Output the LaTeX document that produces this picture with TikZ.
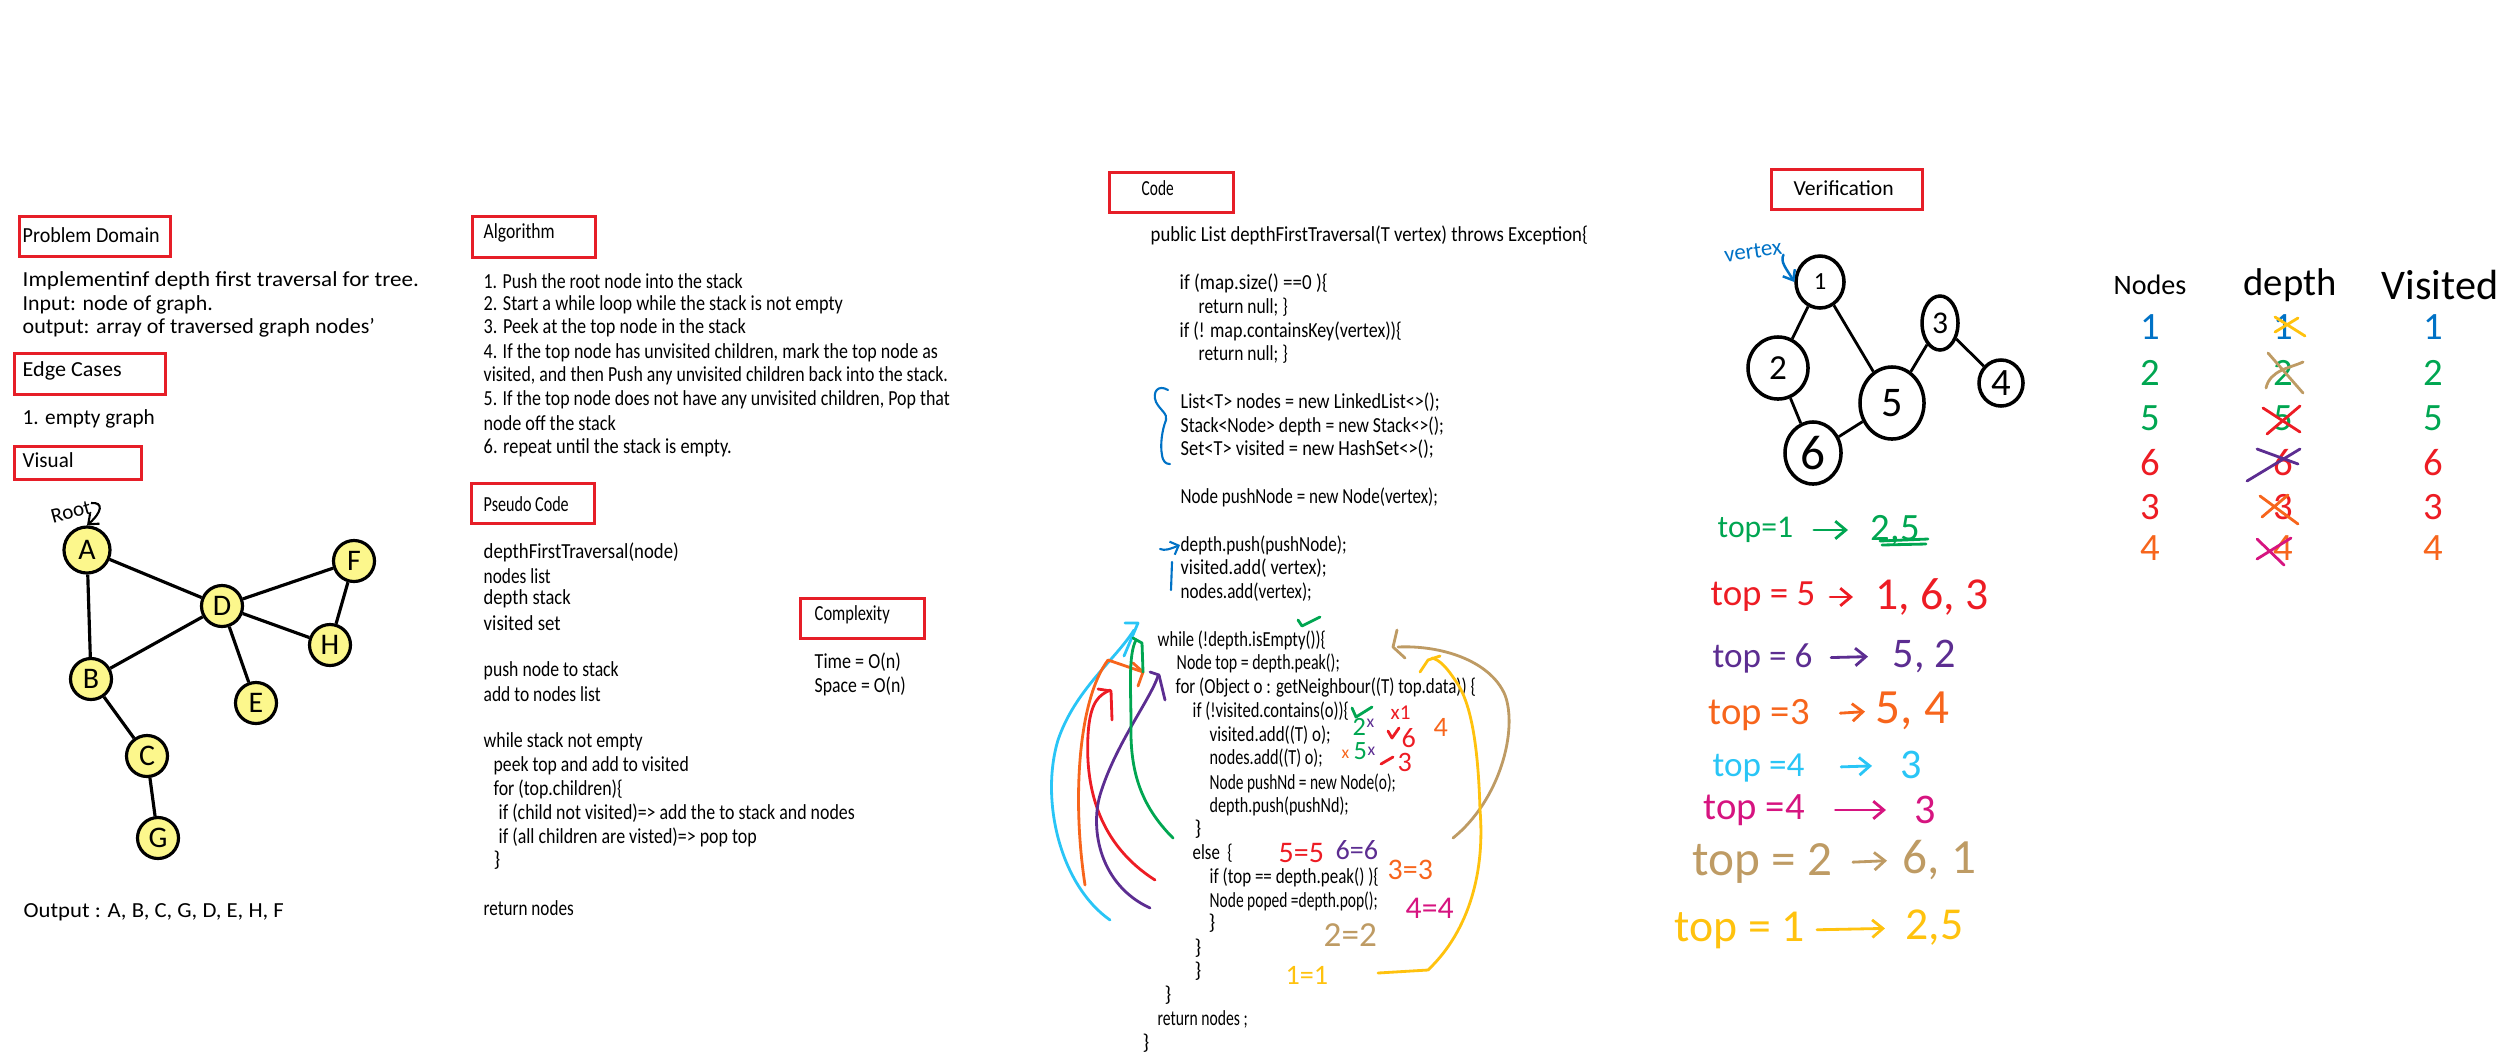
\documentclass[tikz,border=0pt]{standalone}
\usepackage{fontspec}
\setmainfont{Carlito}
\usetikzlibrary{shapes.geometric,arrows.meta}
\definecolor{boxred}{RGB}{230,30,40}
\definecolor{gyel}{RGB}{252,247,140}
\definecolor{cgreen}{RGB}{0,166,81}
\definecolor{cred}{RGB}{237,28,36}
\definecolor{cpurple}{RGB}{92,45,145}
\definecolor{corange}{RGB}{247,101,28}
\definecolor{ccyan}{RGB}{41,197,246}
\definecolor{cmag}{RGB}{214,20,128}
\definecolor{ctan}{RGB}{190,155,100}
\definecolor{cgold}{RGB}{255,194,14}
\definecolor{cblue}{RGB}{0,114,198}
\newcommand\hw{\fontsize{6.1}{7}\selectfont}
\newcommand\fs[1]{\fontsize{#1}{#1}\selectfont}
\newsavebox\fitbox
\newcommand\fitw[2]{\sbox\fitbox{#2}\pgfmathsetmacro\fitr{#1*0.28453/\the\wd\fitbox}\scalebox{\fitr}[1]{\usebox\fitbox}}
\begin{document}
\begin{tikzpicture}[x=0.01cm,y=-0.01cm,
  txt/.style={font=\hw, anchor=west, inner sep=0pt},
  redbox/.style={draw=boxred, line width=0.9pt, anchor=north west, inner sep=0pt},
  gnode/.style={circle, draw=black, line width=0.9pt, fill=gyel, minimum size=0.41cm, inner sep=0pt, font=\fs{8.5}},
  edge/.style={line width=0.9pt},
  vnode/.style={ellipse, draw=black, line width=1pt, inner sep=0pt},
  ann/.style={inner sep=0pt, anchor=west},
  pen/.style={line width=0.8pt, line cap=round, line join=round},
  barb/.style={-{Straight Barb[length=3pt,width=5pt]}},
]
\useasboundingbox (0,0) rectangle (2500,1060);

% ---------- red title boxes ----------
\node[redbox, minimum width=1.51cm, minimum height=0.40cm] (bpd) at (18,215) {};
\node[txt] (tpd) at (22,235) {\fitw{137}{Problem Domain}};
\node[redbox, minimum width=1.51cm, minimum height=0.41cm] (bec) at (13,352) {};
\node[txt] (tec) at (22,371) {\fitw{99}{Edge Cases}};
\node[redbox, minimum width=1.27cm, minimum height=0.33cm] (bvi) at (13,445) {};
\node[txt] (tvi) at (22,460) {\fitw{51}{Visual}};
\node[redbox, minimum width=1.23cm, minimum height=0.41cm] (bal) at (471,215) {};
\node[txt] (tal) at (483,233) {\fitw{71}{Algorithm}};
\node[redbox, minimum width=1.23cm, minimum height=0.40cm] (bps) at (470,482) {};
\node[txt] (tps) at (483,504) {\fitw{85}{Pseudo Code}};
\node[redbox, minimum width=1.24cm, minimum height=0.40cm] (bcx) at (799,597) {};
\node[txt] (tcx) at (814,615) {\fitw{75}{Complexity}};
\node[redbox, minimum width=1.24cm, minimum height=0.40cm] (bco) at (1108,171) {};
\node[txt] (tco) at (1141,188) {\fitw{32}{Code}};
\node[redbox, minimum width=1.51cm, minimum height=0.40cm] (bve) at (1770,168) {};
\node[txt] (tve) at (1793,188) {\fitw{100}{Verification}};

% ---------- left texts ----------
\node[txt] (p1) at (22,281) {\fitw{396}{Implementinf depth first traversal for tree.}};
\node[txt] (p2) at (22,305) {\fitw{190}{Input: node of graph.}};
\node[txt] (p3) at (22,328) {\fitw{352}{output: array of traversed graph nodes'}};
\node[txt] (e1) at (22,419) {\fitw{132}{1. empty graph}};
\node[txt] (out) at (23,912) {\fitw{260}{Output : A, B, C, G, D, E, H, F}};

% ---------- graph ----------
\node[gnode, minimum size=0.46cm] (A) at (87,550) {A};
\node[gnode] (D) at (222,606) {D};
\node[gnode] (F) at (354,561) {F};
\node[gnode] (H) at (330,645) {H};
\node[gnode] (B) at (91,679) {B};
\node[gnode] (E) at (256,703) {E};
\node[gnode] (C) at (147,756) {C};
\node[gnode] (G) at (158,838) {G};
\draw[edge] (A) -- (D) (A) -- (B) (B) -- (D) (D) -- (F) (D) -- (H) (F) -- (H) (D) -- (E) (B) -- (C) (C) -- (G);
\node[inner sep=0pt, rotate=15, font=\fs{6}] (root) at (71,512) {Root};
\coordinate (rootarr) at (91,503);
\draw[line width=0.6pt, -{Straight Barb[length=2.5pt,width=4pt]}] (rootarr) .. controls (104,502) and (102,512) .. (A.north);

% ---------- algorithm ----------
\foreach \y/\w/\t [count=\i] in {281/259/{1. Push the root node into the stack},
  305/359/{2. Start a while loop while the stack is not empty},
  328/262/{3. Peek at the top node in the stack},
  353/454/{4. If the top node has unvisited children, mark the top node as},
  376/464/{visited, and then Push any unvisited children back into the stack.},
  400/466/{5. If the top node does not have any unvisited children, Pop that},
  423/132/{node off the stack},
  448/248/{6. repeat until the stack is empty.}}
  \node[txt] (alg\i) at (483,\y) {\fitw{\w}{\t}};

% ---------- pseudo code ----------
\foreach \x/\y/\w/\t [count=\i] in {483/552/195/{depthFirstTraversal(node)},
  483/576/67/{nodes list}, 483/599/87/{depth stack}, 483/623/77/{visited set},
  483/671/135/{push node to stack}, 483/694/117/{add to nodes list},
  483/742/159/{while stack not empty}, 493/766/195/{peek top and add to visited},
  493/789/129/{for (top.children)\{},
  498/813/356/{if (child not visited)=> add the to stack and nodes},
  498/837/258/{if (all children are visted)=> pop top},
  483/908/90/{return nodes}}
  \node[txt] (ps\i) at (\x,\y) {\fitw{\w}{\t}};
\node[txt] (psb) at (493,860) {\}};

% ---------- complexity ----------
\node[txt] (cx1) at (814,662) {\fitw{86}{Time = O(n)}};
\node[txt] (cx2) at (814,686) {\fitw{91}{Space = O(n)}};

% ---------- code ----------
\foreach \x/\y/\w/\t [count=\i] in {1150/235/437/{public List depthFirstTraversal(T vertex) throws Exception\{},
  1179/283/148/{if (map.size() ==0 )\{}, 1198/307/89/{return null; \}},
  1179/331/222/{if (! map.containsKey(vertex))\{}, 1198/354/89/{return null; \}},
  1180/402/259/{List<T> nodes = new LinkedList<>();},
  1180/426/263/{Stack<Node> depth = new Stack<>();},
  1180/449/253/{Set<T> visited = new HashSet<>();},
  1180/497/257/{Node pushNode = new Node(vertex);},
  1180/545/166/{depth.push(pushNode);}, 1180/568/146/{visited.add( vertex);},
  1180/592/131/{nodes.add(vertex);},
  1157/640/168/{while (!depth.isEmpty())\{}, 1176/663/163/{Node top = depth.peak();},
  1175/687/300/{for (Object o : getNeighbour((T) top.data)) \{},
  1192/711/156/{if (!visited.contains(o))\{}, 1209/735/121/{visited.add((T) o);},
  1209/758/113/{nodes.add((T) o);}, 1209/783/186/{Node pushNd = new Node(o);},
  1209/806/139/{depth.push(pushNd);}, 1192/853/40/{else \ \{},
  1209/877/169/{if (top == depth.peak() )\{}, 1209/901/168/{Node poped =depth.pop();},
  1157/1019/90/{return nodes ;}}
  \node[txt] (code\i) at (\x,\y) {\fitw{\w}{\t}};
\foreach \x/\y [count=\i] in {1194/829, 1208/923, 1194/948, 1194/971, 1164/995, 1142/1043}
  \node[txt] (cb\i) at (\x,\y) {\}};

% blue brace and arrow
\draw[pen, cblue, line width=0.6pt] (1168,390) .. controls (1158,384) and (1152,392) .. (1156,402)
  .. controls (1160,410) and (1168,414) .. (1166,420) .. controls (1162,430) and (1160,445) .. (1162,455)
  .. controls (1163,462) and (1166,464) .. (1170,464);
\coordinate (barr) at (1160,549);
\draw[pen, cblue, line width=0.6pt, -{Straight Barb[length=2pt,width=4pt]}] (barr) .. controls (1165,551) and (1170,549) .. (code10.west);
\draw[pen, cblue, line width=0.6pt] (1172,562) -- (1171,590);

% colored loop arrows (left)
\draw[pen, ccyan] (1110,920) .. controls (1060,885) and (1040,800) .. (1058,740) .. controls (1075,690) and (1115,660) .. (1134,630);
\draw[pen, ccyan] (1125,623) -- (1138,623) -- (1124,656);
\draw[pen, corange] (1085,885) .. controls (1072,800) and (1078,700) .. (1108,660) -- (1143,672);
\draw[pen, corange] (1133,663) -- (1143,672) -- (1138,686);
\draw[pen, cred] (1155,880) .. controls (1100,845) and (1085,790) .. (1088,735) .. controls (1090,700) and (1100,695) .. (1110,690);
\draw[pen, cred] (1098,689) -- (1111,691) -- (1112,720);
\draw[pen, cpurple] (1150,908) .. controls (1100,885) and (1090,830) .. (1100,795) .. controls (1115,745) and (1150,700) .. (1158,676);
\draw[pen, cpurple] (1150,672) -- (1159,675) -- (1165,700);
\draw[pen, cgreen] (1173,838) .. controls (1140,805) and (1130,770) .. (1131,725) .. controls (1131,690) and (1128,655) .. (1136,640);
\draw[pen, cgreen] (1133,638) -- (1142,643) -- (1143,672);
% right arrows
\draw[pen, ctan] (1453,838) .. controls (1500,800) and (1518,730) .. (1505,695) .. controls (1490,660) and (1440,645) .. (1398,647);
\draw[pen, ctan] (1397,630) -- (1393,647) -- (1405,658);
\draw[pen, cgold] (1378,973) -- (1428,970) .. controls (1470,930) and (1485,870) .. (1480,810) .. controls (1478,740) and (1470,700) .. (1455,680) .. controls (1447,668) and (1440,660) .. (1432,658);
\draw[pen, cgold] (1420,672) -- (1428,660) -- (1440,656);

% code annotations
\draw[pen, cgreen] (1298,620) -- (1302,626) -- (1320,617);
\draw[pen, cgreen] (1352,708) -- (1356,717) -- (1372,707);
\node[ann, text=cgreen, font=\fs{7.5}] (a2) at (1352,727) {2};
\node[ann, text=cpurple, font=\fs{5}] (a2x) at (1366,723) {x};
\node[ann, text=cgreen, font=\fs{7.5}] (a5) at (1353,751) {5};
\node[ann, text=cpurple, font=\fs{5}] (a5x) at (1367,751) {x};
\node[ann, text=corange, font=\fs{5}] (a5o) at (1341,754) {x};
\node[ann, text=cred, font=\fs{6}] (ax1) at (1390,713) {x1};
\draw[pen, cred] (1388,731) -- (1392,738) -- (1399,728);
\node[ann, text=cred, font=\fs{8}] (a6) at (1401,738) {6};
\draw[pen, cred] (1381,764) -- (1393,757);
\node[ann, text=cred, font=\fs{8}] (a3) at (1397,762) {3};
\node[ann, text=corange, font=\fs{8}] (a4) at (1433,727) {4};
\node[ann, text=cred, font=\fs{8.5}] (e55) at (1278,853) {5=5};
\node[ann, text=cpurple, font=\fs{8}] (e66) at (1335,850) {6=6};
\node[ann, text=corange, font=\fs{8.5}] (e33) at (1387,870) {3=3};
\node[ann, text=cmag, font=\fs{9}] (e44) at (1405,908) {4=4};
\node[ann, text=ctan, font=\fs{10}] (e22) at (1323,935) {2=2};
\node[ann, text=cgold, font=\fs{8}] (e11) at (1285,975) {1=1};

% ---------- verification graph ----------
\node[vnode, minimum width=0.48cm, minimum height=0.52cm, font=\fs{7}] (v1) at (1820,282) {1};
\node[vnode, minimum width=0.60cm, minimum height=0.62cm, font=\fs{10}] (v2) at (1778,368) {2};
\node[vnode, minimum width=0.64cm, minimum height=0.72cm, font=\fs{12}] (v5) at (1892,403) {5};
\node[vnode, minimum width=0.36cm, minimum height=0.54cm, font=\fs{9}] (v3) at (1940,323) {3};
\node[vnode, minimum width=0.44cm, minimum height=0.46cm, font=\fs{11}] (v4) at (2001,383) {4};
\node[vnode, minimum width=0.56cm, minimum height=0.62cm, font=\fs{14}] (v6) at (1813,453) {6};
\draw[line width=0.8pt] (v1) -- (v2) (v1) -- (v5) (v2) -- (v6) (v6) -- (v5) (v5) -- (v3) (v3) -- (v4);
\node[inner sep=0pt, rotate=8, text=cblue, font=\fs{6.5}] (vtx) at (1753,251) {vertex};
\draw[pen, cblue, line width=0.7pt, -{Straight Barb[length=2.5pt,width=4pt]}] (vtx.south east) .. controls (1780,262) and (1786,268) .. (v1.west);

% ---------- trace lines ----------
\node[ann, text=cgreen, font=\fs{9}] (g1) at (1717,530) {top=1};
\node[ann, text=cgreen, font=\fs{11}] (g2) at (1870,530) {2,5};
\draw[pen, cgreen, barb] (g1.east) -- (g2.west) [shorten <=0.2cm, shorten >=0.22cm];
\draw[pen, cgreen] (1880,541) -- (1928,539) (1882,545) -- (1926,544);

\node[ann, text=cred, font=\fs{10.5}] (r1) at (1710,597) {top = 5};
\node[ann, text=cred, font=\fs{13}] (r2) at (1875,597) {1, 6, 3};
\draw[pen, cred, barb] (r1.east) -- (r2.west) [shorten <=0.14cm, shorten >=0.22cm];

\node[ann, text=cpurple, font=\fs{10}] (u1) at (1712,658) {top = 6};
\node[ann, text=cpurple, font=\fs{12}] (u2) at (1892,656) {5, 2};
\draw[pen, cpurple, barb] (u1.east) -- (u2.west) [shorten <=0.18cm, shorten >=0.24cm];

\node[ann, text=corange, font=\fs{11}] (o1) at (1708,715) {top =3};
\node[ann, text=corange, font=\fs{14}] (o2) at (1875,711) {5, 4};
\draw[pen, corange, barb] (o1.east) -- (o2.west) [shorten <=0.3cm, shorten >=0.1cm];

\node[ann, text=ccyan, font=\fs{10}] (c1) at (1712,768) {top =4};
\node[ann, text=ccyan, font=\fs{12}] (c2) at (1900,765) {3};
\draw[pen, ccyan, barb] (c1.east) -- (c2.west) [shorten <=0.36cm, shorten >=0.28cm];

\node[ann, text=cmag, font=\fs{11}] (m1) at (1703,810) {top =4};
\node[ann, text=cmag, font=\fs{12}] (m2) at (1914,810) {3};
\draw[pen, cmag, barb] (m1.east) -- (m2.west) [shorten <=0.3cm, shorten >=0.28cm];

\node[ann, text=ctan, font=\fs{14}] (n1) at (1692,863) {top = 2};
\node[ann, text=ctan, font=\fs{14}] (n2) at (1902,860) {6, 1};
\draw[pen, ctan, barb] (n1.east) -- (n2.west) [shorten <=0.2cm, shorten >=0.15cm];

\node[ann, text=cgold, font=\fs{13}] (y1) at (1674,930) {top = 1};
\node[ann, text=cgold, font=\fs{13}] (y2) at (1905,928) {2,5};
\draw[pen, cgold, barb] (y1.east) -- (y2.west) [shorten <=0.12cm, shorten >=0.2cm];

% ---------- table ----------
\node[inner sep=0pt, font=\fs{8}] (hn) at (2150,285) {Nodes};
\node[inner sep=0pt, font=\fs{11}] (hd) at (2290,285) {depth};
\node[inner sep=0pt, font=\fs{12}] (hv) at (2440,285) {Visited};
\foreach \y/\d/\c [count=\i] in {327/1/cblue, 373/2/cgreen, 418/5/cgreen, 463/6/cred, 507/3/cred, 548/4/corange}{
  \node[inner sep=0pt, text=\c, font=\fs{11}] (tn\i) at (2150,\y) {\d};
  \node[inner sep=0pt, text=\c, font=\fs{11}] (td\i) at (2283,\y) {\d};
  \node[inner sep=0pt, text=\c, font=\fs{11}] (tv\i) at (2433,\y) {\d};
}
\draw[pen, cgold] (2275,317) -- (2305,336) (2275,332) -- (2298,318);
\draw[pen, ctan] (2268,353) -- (2303,393) (2266,388) .. controls (2270,370) and (2290,368) .. (2303,362);
\draw[pen, cred] (2263,408) -- (2300,432) (2267,434) -- (2300,406);
\draw[pen, cpurple] (2257,449) -- (2298,464) (2247,481) -- (2300,449);
\draw[pen, corange] (2260,496) -- (2298,524) (2262,517) -- (2288,495);
\draw[pen, cmag] (2257,539) -- (2284,565) (2257,559) -- (2291,538);
\end{tikzpicture}
\end{document}
